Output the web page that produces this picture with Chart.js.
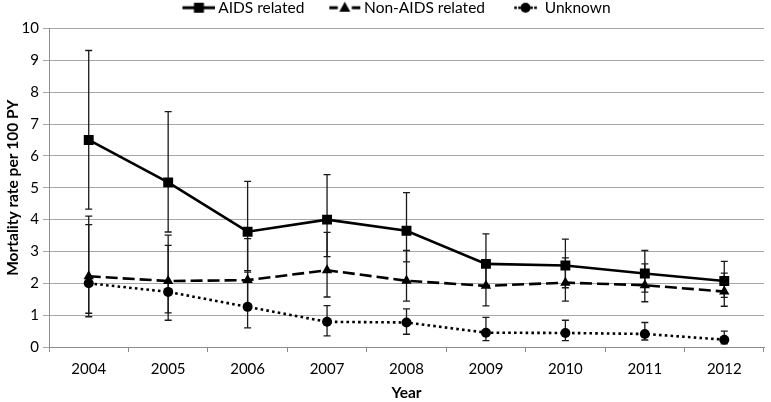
<!DOCTYPE html>
<html>
<head>
<meta charset="utf-8">
<script src="https://cdn.jsdelivr.net/npm/chart.js@4/dist/chart.umd.min.js"></script>
<style>
  html, body { margin: 0; padding: 0; background: #fff; }
  #wrap { width: 771px; height: 402px; position: relative; }
</style>
</head>
<body>
<div id="wrap"><canvas id="c" width="771" height="402"></canvas></div>
<script>
const years = ['2004', '2005', '2006', '2007', '2008', '2009', '2010', '2011', '2012'];
const aids = [6.5, 5.17, 3.62, 4.0, 3.65, 2.61, 2.56, 2.31, 2.07];
const aidsLow = [4.33, 3.61, 2.4, 2.84, 2.67, 1.92, 1.86, 1.72, 1.56];
const aidsHigh = [9.31, 7.39, 5.2, 5.41, 4.85, 3.55, 3.39, 3.03, 2.69];
const nonAids = [2.22, 2.07, 2.1, 2.41, 2.08, 1.92, 2.02, 1.94, 1.74];
const nonAidsLow = [1.06, 1.07, 1.2, 1.57, 1.44, 1.29, 1.44, 1.42, 1.28];
const nonAidsHigh = [4.11, 3.51, 3.4, 3.6, 3.03, 2.6, 2.8, 2.61, 2.32];
const unknown = [2.0, 1.73, 1.26, 0.79, 0.77, 0.45, 0.44, 0.41, 0.23];
const unknownLow = [0.95, 0.84, 0.6, 0.35, 0.4, 0.2, 0.2, 0.22, 0.1];
const unknownHigh = [3.84, 3.19, 2.35, 1.3, 1.2, 0.93, 0.84, 0.77, 0.5];
const seriesNames = ['AIDS related', 'Non-AIDS related', 'Unknown'];
const yTicks = [0, 1, 2, 3, 4, 5, 6, 7, 8, 9, 10];

const FONT = 'Lato, "Open Sans", sans-serif';

// legend swatch: box width W, image extends E px beyond each side; sample ends 3px before text
const W = 52, E = 5;
function legendImage(kind) {
  const c = document.createElement('canvas');
  c.width = W + 2 * E; c.height = 14;
  const g = c.getContext('2d');
  g.strokeStyle = '#000'; g.fillStyle = '#000';
  const cy = 7;
  const x1 = c.width, x0 = x1 - 33, mid = (x0 + x1) / 2;
  if (kind === 0) {
    g.lineWidth = 3;
    g.beginPath(); g.moveTo(x0, cy); g.lineTo(x1, cy); g.stroke();
    g.fillRect(mid - 5, cy - 5, 10, 10);
  } else if (kind === 1) {
    g.lineWidth = 3;
    g.beginPath(); g.moveTo(x0 + 1, cy); g.lineTo(mid - 7, cy); g.moveTo(mid + 7, cy); g.lineTo(x1 - 1, cy); g.stroke();
    g.beginPath(); g.moveTo(mid, cy - 6); g.lineTo(mid + 5.5, cy + 4); g.lineTo(mid - 5.5, cy + 4); g.closePath(); g.fill();
  } else {
    for (const d of [-10, -6, 6, 10]) { g.fillRect(mid + d - 1.3, cy - 1.3, 2.6, 2.6); }
    g.beginPath(); g.arc(mid, cy, 5, 0, Math.PI * 2); g.fill();
  }
  return c;
}
const legendImgs = [legendImage(0), legendImage(1), legendImage(2)];

const errorData = [[aidsLow, aidsHigh], [nonAidsLow, nonAidsHigh], [unknownLow, unknownHigh]];

const errorBars = {
  id: 'errorBars',
  beforeLayout(chart) {
    const lg = chart.legend;
    if (lg && !lg._extraPatched) {
      const orig = lg.fit.bind(lg);
      lg.fit = function () { orig(); this.height += 3; };
      lg._extraPatched = true;
    }
  },
  beforeDatasetsDraw(chart) {
    const ctx = chart.ctx;
    const xs = chart.scales.x, ys = chart.scales.y;
    ctx.save();
    ctx.strokeStyle = '#1a1a1a';
    ctx.lineWidth = 1.3;
    errorData.forEach(([lo, hi]) => {
      for (let i = 0; i < years.length; i++) {
        const x = xs.getPixelForValue(i);
        const y1 = ys.getPixelForValue(lo[i]);
        const y2 = ys.getPixelForValue(hi[i]);
        ctx.beginPath();
        ctx.moveTo(x, y1); ctx.lineTo(x, y2);
        ctx.moveTo(x - 3.5, y1); ctx.lineTo(x + 3.5, y1);
        ctx.moveTo(x - 3.5, y2); ctx.lineTo(x + 3.5, y2);
        ctx.stroke();
      }
    });
    ctx.restore();
  }
};

new Chart(document.getElementById('c'), {
  type: 'line',
  data: {
    labels: years,
    datasets: [
      {
        label: seriesNames[0], data: aids,
        borderColor: '#000', backgroundColor: '#000', borderWidth: 2.6,
        pointStyle: 'rect', pointRadius: 7, pointHoverRadius: 7, pointBorderWidth: 0,
        tension: 0
      },
      {
        label: seriesNames[1], data: nonAids,
        borderColor: '#000', backgroundColor: '#000', borderWidth: 2.6, borderDash: [12, 5],
        pointStyle: 'triangle', pointRadius: 6, pointHoverRadius: 6, pointBorderWidth: 0,
        tension: 0
      },
      {
        label: seriesNames[2], data: unknown,
        borderColor: '#000', backgroundColor: '#000', borderWidth: 2.6, borderDash: [2.6, 3.2],
        pointStyle: 'circle', pointRadius: 5, pointHoverRadius: 5, pointBorderWidth: 0,
        tension: 0
      }
    ]
  },
  options: {
    responsive: false,
    animation: false,
    events: [],
    layout: { padding: { left: 0, right: 2, top: 0, bottom: 0 } },
    plugins: {
      tooltip: { enabled: false },
      legend: {
        display: true,
        position: 'top',
        labels: {
          usePointStyle: true,
          pointStyleWidth: W,
          boxHeight: 14,
          padding: 0,
          color: '#000',
          font: { family: FONT, size: 15.5 },
          generateLabels(chart) {
            const items = Chart.defaults.plugins.legend.labels.generateLabels(chart);
            items.forEach((it, i) => { it.pointStyle = legendImgs[i]; });
            return items;
          }
        }
      }
    },
    scales: {
      x: {
        type: 'category',
        offset: true,
        grid: { offset: true, drawOnChartArea: false, drawTicks: true, tickLength: 5, color: '#8c8c8c' },
        border: { color: '#8c8c8c', width: 1 },
        ticks: { color: '#000', font: { family: FONT, size: 15 }, padding: 8, maxRotation: 0 },
        title: { display: true, text: 'Year', color: '#000', font: { family: FONT, size: 15.5, weight: 'bold' }, padding: { top: 0, bottom: 0 } },
        afterFit(s) { s.height = 55; }
      },
      y: {
        min: 0, max: 10,
        afterBuildTicks(s) { s.ticks = yTicks.map(v => ({ value: v })); },
        grid: { color: '#a6a6a6', lineWidth: 1, drawTicks: true, tickLength: 6 },
        border: { color: '#8c8c8c', width: 1 },
        ticks: { color: '#000', font: { family: FONT, size: 15 }, padding: 4 },
        title: { display: true, text: 'Mortality rate per 100 PY', color: '#000', font: { family: FONT, size: 15.5, weight: 'bold' }, padding: { top: 4, bottom: 0 } },
        afterFit(s) { s.width = 49; }
      }
    }
  },
  plugins: [errorBars]
});
</script>
</body>
</html>
